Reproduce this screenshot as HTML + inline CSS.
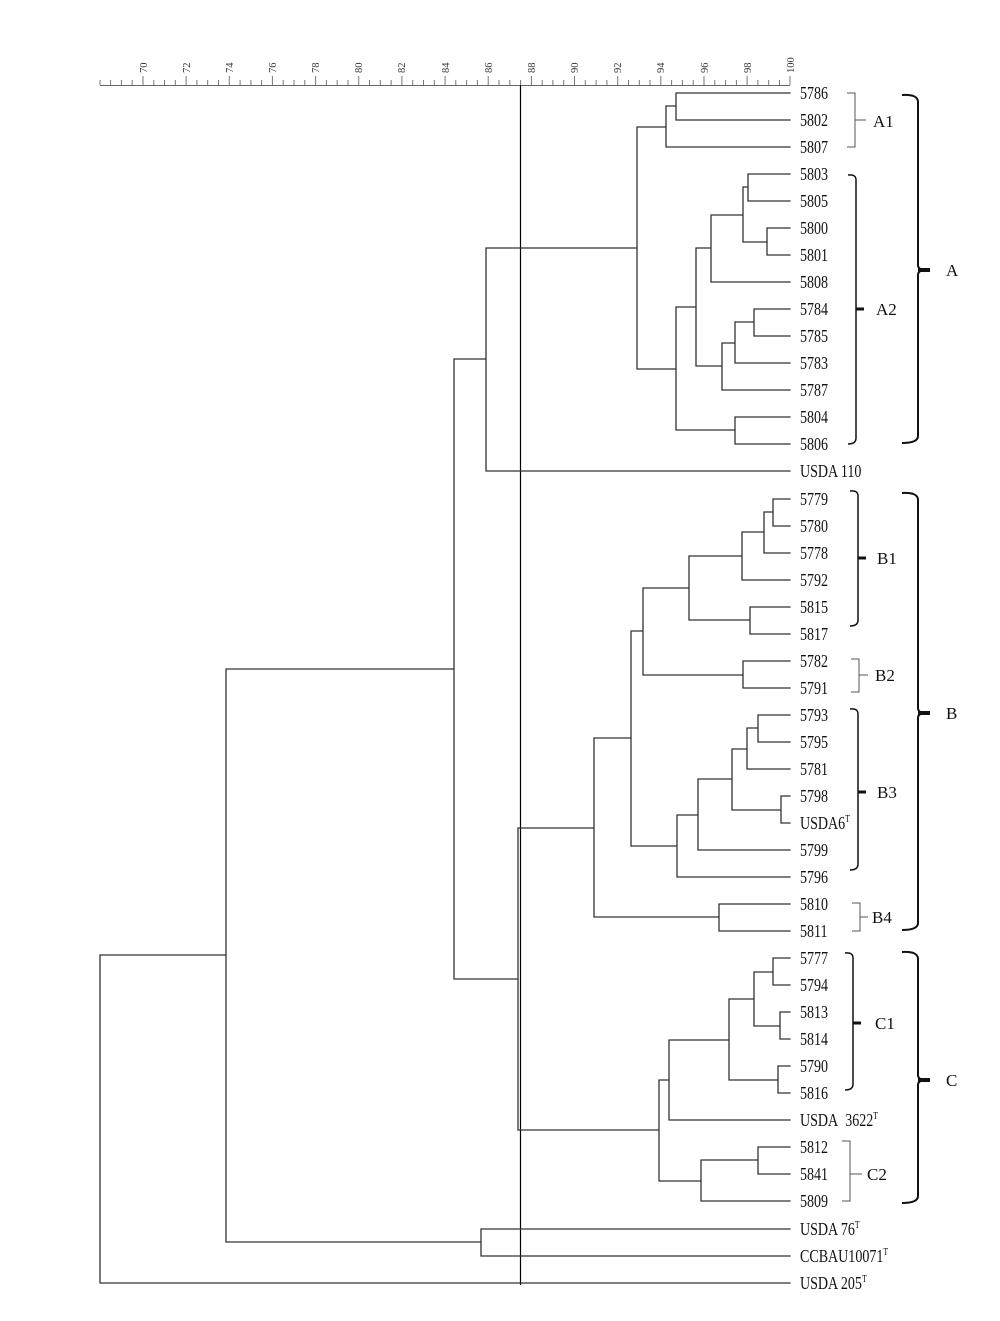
<!DOCTYPE html>
<html><head><meta charset="utf-8"><style>
html,body{margin:0;padding:0;background:#fff;}
svg{display:block;}
text{font-family:"Liberation Serif",serif;}
.l{font-size:18px;}
.ax{font-family:"Liberation Sans",sans-serif;font-size:10.5px;fill:#333;}
</style></head><body>
<svg width="1000" height="1321" viewBox="0 0 1000 1321" xmlns="http://www.w3.org/2000/svg">
<g stroke="#666" stroke-width="1" fill="none">
<path d="M100 85.5 H790"/>
</g>
<path d="M520.5 85 V1285" stroke="#000" stroke-width="1.2"/>
<g stroke="#333" stroke-width="1.3" fill="none" stroke-linecap="square">
<path d="
M676 93 H790 M676 120 H790 M666 147 H790 M748 174 H790 M748 201 H790 M767 228 H790 M767 255 H790 M711 282 H790
M754 309 H790 M754 336 H790 M735 363 H790 M722 390 H790 M735 417 H790 M735 444 H790 M486 471 H790
M773 499 H790 M773 526 H790 M764 553 H790 M742 580 H790 M750 607 H790 M750 634 H790 M743 661 H790 M743 688 H790
M758 715 H790 M758 742 H790 M747 769 H790 M781 796 H790 M781 823 H790 M698 850 H790 M677 877 H790 M719 904 H790 M719 931 H790
M773 958 H790 M773 985 H790 M780 1012 H790 M780 1039 H790 M778 1066 H790 M778 1093 H790 M669 1120 H790 M758 1147 H790 M758 1174 H790 M701 1201 H790
M481 1229 H790 M481 1256 H790 M100 1283 H790
M676 93 V120 M666 106 H676 M666 106 V147 M637 127 H666
M748 174 V201 M743 187 H748 M767 228 V255 M743 242 H767 M743 187 V242 M711 215 H743 M711 215 V282 M696 248 H711
M754 309 V336 M735 322 H754 M735 322 V363 M722 343 H735 M722 343 V390 M696 366 H722 M696 248 V366 M676 307 H696
M735 417 V444 M676 430 H735 M676 307 V430 M637 369 H676 M637 127 V369 M486 248 H637 M486 248 V471 M454 359 H486
M773 499 V526 M764 512 H773 M764 512 V553 M742 532 H764 M742 532 V580 M689 556 H742 M750 607 V634 M689 620 H750
M689 556 V620 M643 588 H689 M743 661 V688 M643 675 H743 M643 588 V675 M631 631 H643
M758 715 V742 M747 728 H758 M747 728 V769 M732 749 H747 M781 796 V823 M732 810 H781 M732 749 V810 M698 779 H732
M698 779 V850 M677 815 H698 M677 815 V877 M631 846 H677 M631 631 V846 M594 738 H631
M719 904 V931 M594 917 H719 M594 738 V917 M518 828 H594
M773 958 V985 M754 972 H773 M780 1012 V1039 M754 1026 H780 M754 972 V1026 M729 999 H754
M778 1066 V1093 M729 1080 H778 M729 999 V1080 M669 1040 H729 M669 1040 V1120 M659 1080 H669
M758 1147 V1174 M701 1160 H758 M701 1160 V1201 M659 1181 H701 M659 1080 V1181 M518 1130 H659
M518 828 V1130 M454 979 H518 M454 359 V979 M226 669 H454
M481 1229 V1256 M226 1242 H481 M226 669 V1242 M100 955 H226 M100 955 V1283
"/>
</g>
<g class="l" fill="#111" transform="translate(800,0) scale(0.78,1) translate(-800,0)">
<text x="800" y="99">5786</text><text x="800" y="126">5802</text><text x="800" y="153">5807</text>
<text x="800" y="180">5803</text><text x="800" y="207">5805</text><text x="800" y="234">5800</text><text x="800" y="261">5801</text>
<text x="800" y="288">5808</text><text x="800" y="315">5784</text><text x="800" y="342">5785</text><text x="800" y="369">5783</text>
<text x="800" y="396">5787</text><text x="800" y="423">5804</text><text x="800" y="450">5806</text><text x="800" y="477">USDA 110</text>
<text x="800" y="505">5779</text><text x="800" y="532">5780</text><text x="800" y="559">5778</text><text x="800" y="586">5792</text>
<text x="800" y="613">5815</text><text x="800" y="640">5817</text><text x="800" y="667">5782</text><text x="800" y="694">5791</text>
<text x="800" y="721">5793</text><text x="800" y="748">5795</text><text x="800" y="775">5781</text><text x="800" y="802">5798</text>
<text x="800" y="829">USDA6<tspan font-size="10" dy="-7">T</tspan></text>
<text x="800" y="856">5799</text><text x="800" y="883">5796</text><text x="800" y="910">5810</text><text x="800" y="937">5811</text>
<text x="800" y="964">5777</text><text x="800" y="991">5794</text><text x="800" y="1018">5813</text><text x="800" y="1045">5814</text>
<text x="800" y="1072">5790</text><text x="800" y="1099">5816</text>
<text x="800" y="1126">USDA&#160; 3622<tspan font-size="10" dy="-7">T</tspan></text>
<text x="800" y="1153">5812</text><text x="800" y="1180">5841</text><text x="800" y="1207">5809</text>
<text x="800" y="1235">USDA 76<tspan font-size="10" dy="-7">T</tspan></text>
<text x="800" y="1262">CCBAU10071<tspan font-size="10" dy="-7">T</tspan></text>
<text x="800" y="1289">USDA 205<tspan font-size="10" dy="-7">T</tspan></text>
</g>
<g fill="none" stroke="#555" stroke-width="1">
<path d="M847 93 H855 V147 H847 M855 120 H866"/>
<path d="M851 659 H859 V692 H851 M859 675 H868"/>
<path d="M852 903 H860 V931 H852 M860 917 H868"/>
<path d="M842 1141 H850 V1201 H842 M850 1174 H862"/>
</g>
<g fill="none" stroke="#111" stroke-width="1.5">
<path d="M848 175 Q856 174 856 180 V438 Q856 444 848 444"/>
<path d="M850 491 Q858 490 858 496 V620 Q858 626 850 626"/>
<path d="M850 709 Q858 708 858 714 V864 Q858 870 850 870"/>
<path d="M845 953 Q853 952 853 958 V1084 Q853 1090 845 1090"/>
</g>
<g stroke="#111" stroke-width="3">
<path d="M856 309 H864"/><path d="M858 558 H866"/><path d="M858 792 H866"/><path d="M853 1023 H861"/>
</g>
<g fill="none" stroke="#111" stroke-width="2">
<path d="M902 95 Q918 94 918 102 V265 Q918 270 926 270 Q918 270 918 275 V436 Q918 443 902 443"/>
<path d="M902 493 Q918 492 918 500 V708 Q918 713 926 713 Q918 713 918 718 V923 Q918 930 902 930"/>
<path d="M902 952 Q918 951 918 959 V1075 Q918 1080 926 1080 Q918 1080 918 1085 V1196 Q918 1203 902 1203"/>
</g>
<g stroke="#111" stroke-width="4"><path d="M918 270 H930"/><path d="M918 713 H930"/><path d="M918 1080 H930"/></g>
<g font-size="17" fill="#111">
<text x="873" y="127">A1</text><text x="876" y="315">A2</text>
<text x="877" y="564">B1</text><text x="875" y="681">B2</text><text x="877" y="798">B3</text><text x="872" y="923">B4</text>
<text x="875" y="1029">C1</text><text x="867" y="1180">C2</text>
<text x="946" y="276">A</text><text x="946" y="719">B</text><text x="946" y="1086">C</text>
</g>
<g stroke="#777" stroke-width="1">
<path d="
M100 85 V80 M110.6 85 V80 M121.4 85 V80 M132.2 85 V80 M143 85 V76 M153.8 85 V80 M164.5 85 V80 M175.3 85 V80 M186.1 85 V76
M196.9 85 V80 M207.7 85 V80 M218.5 85 V80 M229.3 85 V76 M240.1 85 V80 M250.9 85 V80 M261.6 85 V80 M272.4 85 V76
M283.2 85 V80 M294 85 V80 M304.8 85 V80 M315.6 85 V76 M326.4 85 V80 M337.2 85 V80 M348 85 V80 M358.7 85 V76
M369.5 85 V80 M380.3 85 V80 M391.1 85 V80 M401.9 85 V76 M412.7 85 V80 M423.5 85 V80 M434.3 85 V80 M445.1 85 V76
M455.8 85 V80 M466.6 85 V80 M477.4 85 V80 M488.2 85 V76 M499 85 V80 M509.8 85 V80 M520.6 85 V80 M531.4 85 V76
M542.2 85 V80 M552.9 85 V80 M563.7 85 V80 M574.5 85 V76 M585.3 85 V80 M596.1 85 V80 M606.9 85 V80 M617.7 85 V76
M628.5 85 V80 M639.3 85 V80 M650 85 V80 M660.8 85 V76 M671.6 85 V80 M682.4 85 V80 M693.2 85 V80 M704 85 V76
M714.8 85 V80 M725.6 85 V80 M736.4 85 V80 M747.1 85 V76 M757.9 85 V80 M768.7 85 V80 M779.5 85 V80 M790 85 V76"/>
</g>
<g class="ax">
<text transform="translate(147,73) rotate(-90)">70</text>
<text transform="translate(190,73) rotate(-90)">72</text>
<text transform="translate(233,73) rotate(-90)">74</text>
<text transform="translate(276,73) rotate(-90)">76</text>
<text transform="translate(319,73) rotate(-90)">78</text>
<text transform="translate(362,73) rotate(-90)">80</text>
<text transform="translate(405,73) rotate(-90)">82</text>
<text transform="translate(449,73) rotate(-90)">84</text>
<text transform="translate(492,73) rotate(-90)">86</text>
<text transform="translate(535,73) rotate(-90)">88</text>
<text transform="translate(578,73) rotate(-90)">90</text>
<text transform="translate(621,73) rotate(-90)">92</text>
<text transform="translate(664,73) rotate(-90)">94</text>
<text transform="translate(708,73) rotate(-90)">96</text>
<text transform="translate(751,73) rotate(-90)">98</text>
<text transform="translate(794,73) rotate(-90)">100</text>
</g>
</svg>
</body></html>
